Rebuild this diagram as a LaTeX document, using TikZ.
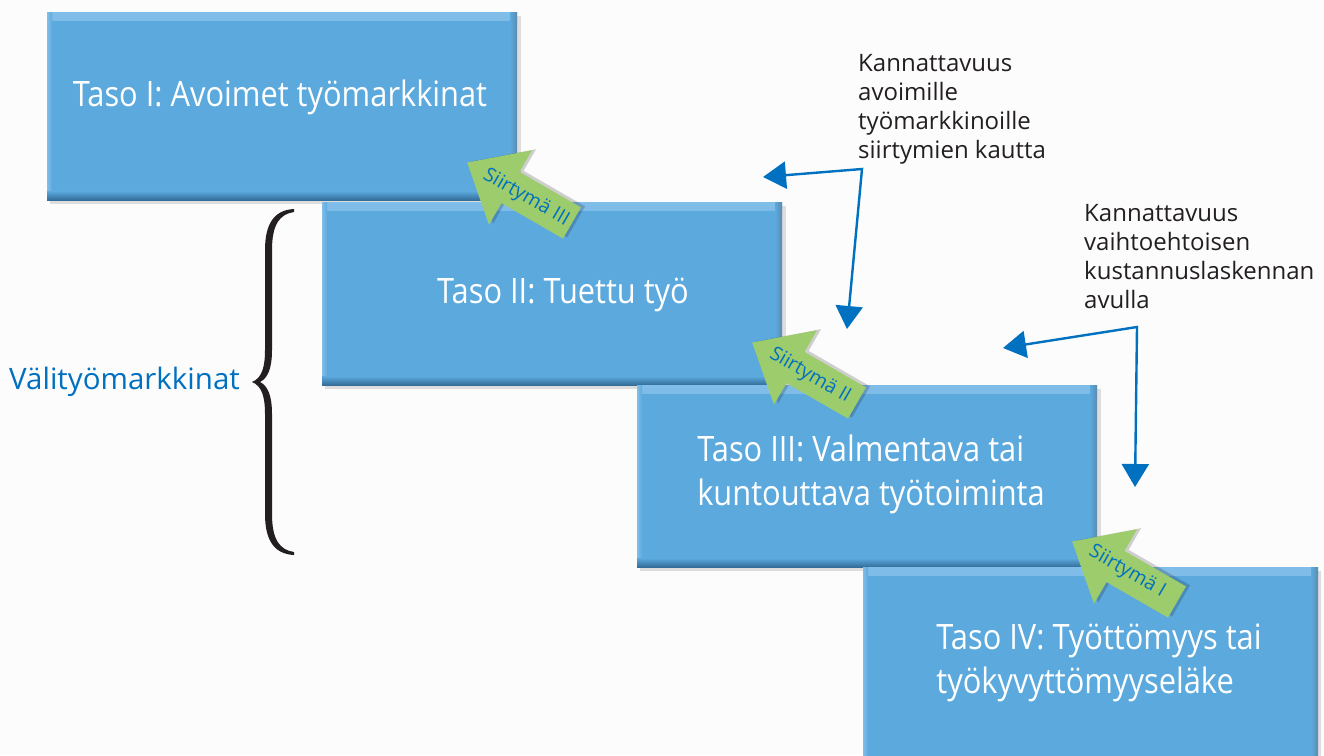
\documentclass[tikz,border=0pt]{standalone}
\usepackage{fontspec}
\setmainfont{Open Sans}
\newfontfamily\boxfont{Open Sans}[FakeStretch=0.88]
\usetikzlibrary{arrows.meta,calc}
\definecolor{boxfill}{RGB}{91,169,221}
\definecolor{boxdark}{RGB}{50,108,152}
\definecolor{boxlight}{RGB}{128,189,232}
\definecolor{arrgreen}{RGB}{157,204,108}
\definecolor{txtblue}{RGB}{0,112,192}
\definecolor{txtgray}{RGB}{35,31,32}
\tikzset{
  tbox/.style={rectangle, inner sep=0pt, fill=boxfill, anchor=north west,
    path picture={
      \shade[top color=boxlight, bottom color=boxfill]
        (path picture bounding box.north west) rectangle ([yshift=-8pt]path picture bounding box.north east);
      \shade[left color=boxfill, right color=boxdark!80]
        ([xshift=-7pt]path picture bounding box.south east) rectangle (path picture bounding box.north east);
      \shade[left color=boxlight, right color=boxfill]
        (path picture bounding box.south west) rectangle ([xshift=5pt]path picture bounding box.north west);
      \shade[top color=boxfill, bottom color=boxdark]
        ([yshift=9pt]path picture bounding box.south west) rectangle (path picture bounding box.south east);
    }},
  tshadow/.style={fill=black, opacity=0.12},
  boxtxt/.style={text=white, font=\boxfont\fontsize{35}{44}\selectfont, align=left, inner sep=0pt},
  lbl/.style={text=txtgray, font=\fontsize{24}{29}\selectfont, align=left, inner sep=0pt},
  siirt/.style={text=txtblue, font=\fontsize{19.5}{23}\selectfont, inner sep=0pt},
  conn/.style={draw=txtblue, line width=2.4pt, line join=miter,
    {Triangle[length=23pt,width=27pt]}-{Triangle[length=23pt,width=27pt]}},
}
\newcommand\greenarrow[2]{%
  \begin{scope}[shift={#1}, rotate=150]
    \fill[black, opacity=0.18, shift={(-3,3)}] (-60,-18) -- (11,-18) -- (11,-43) -- (61,0) -- (11,43) -- (11,18) -- (-60,18) -- cycle;
    \fill[arrgreen] (-60,-18) -- (11,-18) -- (11,-43) -- (61,0) -- (11,43) -- (11,18) -- (-60,18) -- cycle;
  \end{scope}}
\begin{document}
\begin{tikzpicture}[x=1pt,y=-1pt]
\clip (0,0) rectangle (1324,755);
\fill[white!99!black] (0,0) rectangle (1324,755);

% shadows
\fill[tshadow] (50,16) rectangle (521,204);
\fill[tshadow] (325,206) rectangle (786,389);
\fill[tshadow] (640,389) rectangle (1101,571);
\fill[tshadow] (866,571) rectangle (1321,760);

% boxes
\node[tbox, minimum width=470pt, minimum height=188pt] (b1) at (47,12) {};
\node[tbox, minimum width=460pt, minimum height=183pt] (b2) at (322,202) {};
\node[tbox, minimum width=460pt, minimum height=182pt] (b3) at (637,385) {};
\node[tbox, minimum width=455pt, minimum height=200pt] (b4) at (863,567) {};

\node[boxtxt] (t1) at (280,97) {Taso I: Avoimet työmarkkinat};
\node[boxtxt] (t2) at (563,295) {Taso II: Tuettu työ};
\node[boxtxt] (t3) at (871,474) {Taso III: Valmentava tai\\kuntouttava työtoiminta};
\node[boxtxt] (t4) at (1099,663) {Taso IV: Työttömyys tai\\työkyvyttömyyseläke};

% green arrows
\greenarrow{(520,193)}{}
\greenarrow{(805,373)}{}
\greenarrow{(1125,572)}{}
\node[siirt, rotate=-30] (s1) at (526,198) {Siirtymä III};
\node[siirt, rotate=-30] (s2) at (810,376) {Siirtymä II};
\node[siirt, rotate=-30] (s3) at (1127,572) {Siirtymä I};

% labels
\node[lbl, anchor=north west] (k1) at (858,54) {Kannattavuus\\avoimille\\työmarkkinoille\\siirtymien kautta};
\node[lbl, anchor=north west] (k2) at (1084,204) {Kannattavuus\\vaihtoehtoisen\\kustannuslaskennan\\avulla};

% blue connectors
\coordinate (c1) at (862,169);
\coordinate (c1l) at (763,177);
\coordinate (c1d) at (847,329);
\coordinate (c2) at (1137,327);
\coordinate (c2l) at (1003,348);
\coordinate (c2d) at (1135,487);
\draw[conn] (c1l) -- (c1) -- (c1d);
\draw[conn] (c2l) -- (c2) -- (c2d);

% brace and label
\fill[txtgray] (294,209) .. controls (274,210) and (265,224) .. (265,250) -- (265,350)
  .. controls (265,367) and (262,378) .. (252,382)
  .. controls (262,386) and (265,397) .. (265,414) -- (265,514)
  .. controls (265,540) and (274,554) .. (294,555)
  -- (294,552) .. controls (280,550) and (272,540) .. (272,514) -- (272,414)
  .. controls (272,396) and (268,386) .. (260,382)
  .. controls (268,378) and (272,368) .. (272,350) -- (272,250)
  .. controls (272,224) and (280,214) .. (294,212) -- cycle;
\node[anchor=base west, text=txtblue, font=\fontsize{29.5}{34}\selectfont, inner sep=0pt] (vm) at (9,389) {Välityömarkkinat};
\end{tikzpicture}
\end{document}
